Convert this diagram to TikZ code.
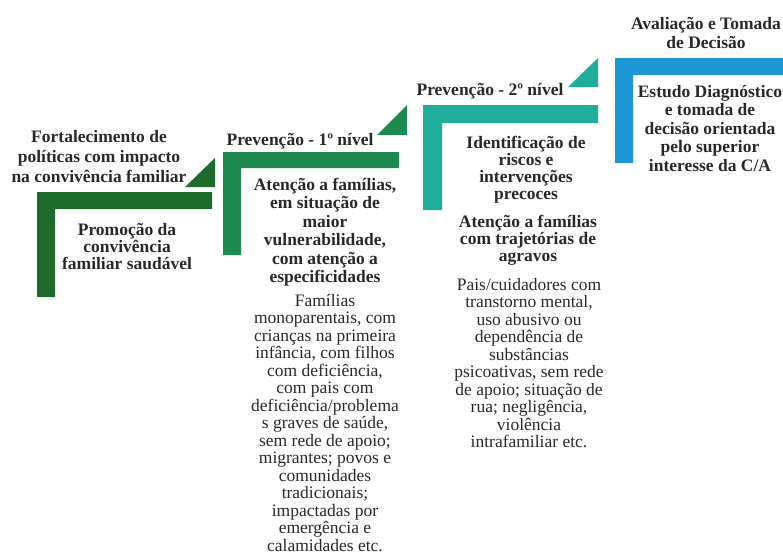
\documentclass[tikz,border=0pt]{standalone}
\usepackage{fontspec}
\setmainfont{Liberation Serif}
\usepackage{tikz}
\definecolor{stepone}{RGB}{31,107,45}
\definecolor{steptwo}{RGB}{29,138,80}
\definecolor{stepthree}{RGB}{32,173,155}
\definecolor{stepfour}{RGB}{29,150,212}
\definecolor{txt}{RGB}{40,40,40}
\begin{document}
\begin{tikzpicture}
[x=1pt,y=-1pt]
\tikzstyle{bold text}=[align=center,inner sep=0,text=txt,font=\bfseries\fontsize{17.5}{18.5}\selectfont]
\tikzstyle{plain text}=[align=center,inner sep=0,text=txt,font=\fontsize{17.5}{17.5}\selectfont]
\useasboundingbox(0,0)rectangle(783,558);

\fill[stepone](37,192)--(212,192)--(212,209)--(55,209)--(55,297)--(37,297)--cycle;
\fill[stepone](185,187)--(215,158)--(215,187)--cycle;
\fill[steptwo](223,152)--(399,152)--(399,168)--(241,168)--(241,255)--(223,255)--cycle;
\fill[steptwo](377,135)--(407,105)--(407,135)--cycle;
\fill[stepthree](423,105)--(598,105)--(598,123)--(442,123)--(442,210)--(423,210)--cycle;
\fill[stepthree](568,87)--(598,58)--(598,87)--cycle;
\fill[stepfour](615,58)--(783,58)--(783,75)--(633,75)--(633,163)--(615,163)--cycle;

\node(t1)[bold text,font=\bfseries\fontsize{17.5}{20}\selectfont]at(99,157){Fortalecimento de\\políticas com impacto\\na convivência familiar};
\node(b1)[bold text,font=\bfseries\fontsize{17.5}{17}\selectfont]at(127,246){Promoção da\\convivência\\familiar saudável};

\node(t2)[bold text]at(300,141){Prevenção - 1º nível};
\node(b2)[bold text]at(325,232){Atenção a famílias,\\em situação de\\maior\\vulnerabilidade,\\com atenção a\\especificidades};
\node(d2)[plain text]at(325,423){Famílias\\monoparentais, com\\crianças na primeira\\infância, com filhos\\com deficiência,\\com pais com\\deficiência/problema\\s graves de saúde,\\sem rede de apoio;\\migrantes; povos e\\comunidades\\tradicionais;\\impactadas por\\emergência e\\calamidades etc.};

\node(t3)[bold text]at(490,91){Prevenção - 2º nível};
\node(b3)[bold text,font=\bfseries\fontsize{17.5}{17}\selectfont]at(526,170){Identificação de\\riscos e\\intervenções\\precoces};
\node(c3)[bold text,font=\bfseries\fontsize{17.5}{17}\selectfont]at(528,240){Atenção a famílias\\com trajetórias de\\agravos};
\node(d3)[plain text]at(529,363){Pais/cuidadores com\\transtorno mental,\\uso abusivo ou\\dependência de\\substâncias\\psicoativas, sem rede\\de apoio; situação de\\rua; negligência,\\violência\\intrafamiliar etc.};

\node(t4)[bold text]at(706,33){Avaliação e Tomada\\de Decisão};
\node(b4)[bold text]at(710,128){Estudo Diagnóstico\\e tomada de\\decisão orientada\\pelo superior\\interesse da C/A};
\end{tikzpicture}
\end{document}
